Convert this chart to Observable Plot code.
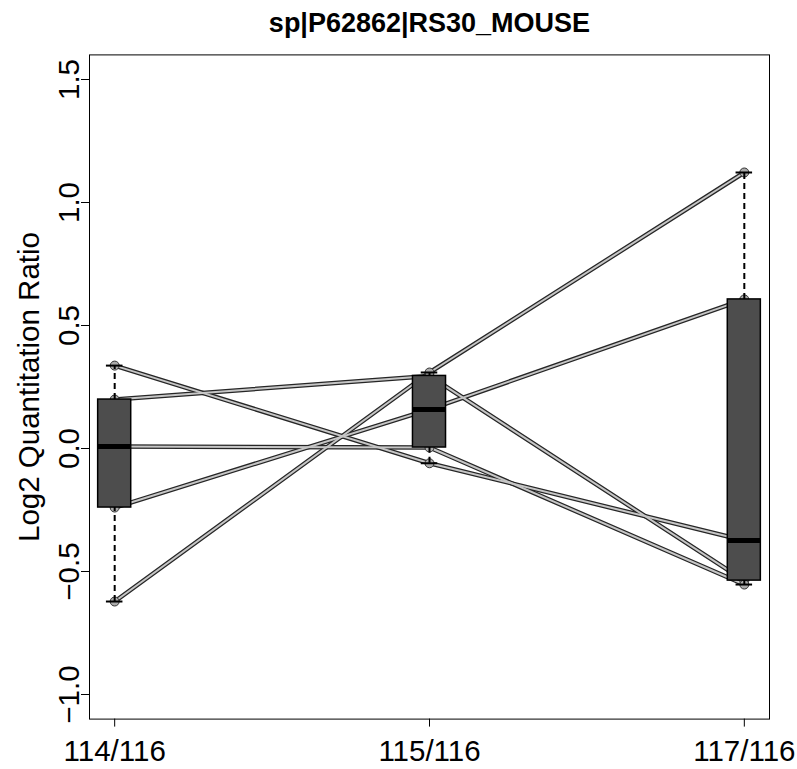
<!DOCTYPE html>
<html>
<head>
<meta charset="utf-8">
<script src="https://cdn.jsdelivr.net/npm/d3@7"></script>
<script src="https://cdn.jsdelivr.net/npm/@observablehq/plot@0.6"></script>
<style>
  body { margin: 0; background: #fff; }
  svg { display: block; }
</style>
</head>
<body>
<div id="chart"></div>
<script>
// Protein and reporter-ion channels
const title = "sp|P62862|RS30_MOUSE";
const channels = ["114/116", "115/116", "117/116"];

// Log2 ratios, one entry per peptide (same peptide order in every channel)
const ratio114 = [0.337, 0.199, 0.008, -0.240, -0.622];
const ratio115 = [-0.060, 0.295, 0.004, 0.159, 0.309];
const ratio117 = [-0.374, -0.537, -0.553, 0.606, 1.122];

const yTicks = [-1.0, -0.5, 0.0, 0.5, 1.0, 1.5];

const series = [ratio114, ratio115, ratio117];

// Long table: one row per peptide per channel
const rows = [];
series.forEach((vals, g) => vals.forEach((v, p) => rows.push({peptide: p, pos: g + 1, ratio: v})));

// Tukey five-number summary (as used by R's boxplot)
function fivenum(values) {
  const x = values.slice().sort((a, b) => a - b);
  const n = x.length;
  const n4 = Math.floor((n + 3) / 2) / 2;
  const d = [1, n4, (n + 1) / 2, n + 1 - n4, n];
  return d.map(k => 0.5 * (x[Math.floor(k) - 1] + x[Math.ceil(k) - 1]));
}
const stats = series.map((vals, g) => {
  const [min, lo, med, hi, max] = fivenum(vals);
  return {pos: g + 1, min, lo, med, hi, max};
});

const boxHalf = 0.0525;
const capHalf = boxHalf / 2;
const bx1 = d => d.pos - boxHalf, bx2 = d => d.pos + boxHalf;
const cx1 = d => d.pos - capHalf, cx2 = d => d.pos + capHalf;

const chart = Plot.plot({
  width: 797,
  height: 769,
  marginLeft: 89,
  marginRight: 28,
  marginTop: 54.4,
  marginBottom: 50.4,
  x: {domain: [0.92, 3.08]},
  y: {domain: [-1.1, 1.6]},
  style: {fontFamily: "'Liberation Sans', Arial, Helvetica, sans-serif", fontSize: "29.5px", color: "black", background: "white"},
  marks: [
    Plot.frame({stroke: "black", strokeWidth: 1}),
    Plot.axisX({ticks: [1, 2, 3], tickFormat: d => channels[d - 1], tickSize: 8, tickPadding: 13, label: null}),
    Plot.axisY({
      ticks: yTicks, tickFormat: d3.format(".1f"), tickRotate: -90, tickSize: 8, tickPadding: 3,
      label: "Log2 Quantitation Ratio", labelAnchor: "center", labelOffset: 71, labelArrow: "none"
    }),
    // peptide profiles: dark casing under a light core
    Plot.line(rows, {x: "pos", y: "ratio", z: "peptide", stroke: "#262626", strokeWidth: 4.5}),
    Plot.line(rows, {x: "pos", y: "ratio", z: "peptide", stroke: "#c6c6c6", strokeWidth: 2}),
    Plot.dot(rows, {x: "pos", y: "ratio", r: 4.5, fill: "#ababab", stroke: "#333", strokeWidth: 1}),
    // whiskers
    Plot.ruleX(stats, {x: "pos", y1: "hi", y2: "max", stroke: "black", strokeWidth: 2, strokeDasharray: "6,4"}),
    Plot.ruleX(stats, {x: "pos", y1: "min", y2: "lo", stroke: "black", strokeWidth: 2, strokeDasharray: "6,4"}),
    Plot.ruleY(stats, {y: "max", x1: cx1, x2: cx2, stroke: "black", strokeWidth: 2}),
    Plot.ruleY(stats, {y: "min", x1: cx1, x2: cx2, stroke: "black", strokeWidth: 2}),
    // boxes and medians
    Plot.rect(stats, {x1: bx1, x2: bx2, y1: "lo", y2: "hi", fill: "#4d4d4d", stroke: "black", strokeWidth: 1.5}),
    Plot.ruleY(stats, {y: "med", x1: bx1, x2: bx2, stroke: "black", strokeWidth: 5}),
    // title
    Plot.text([title], {text: d => d, frameAnchor: "top", dy: -23.4, lineAnchor: "bottom", fontWeight: "bold", fontSize: 27})
  ]
});
document.getElementById("chart").appendChild(chart);
</script>
</body>
</html>
